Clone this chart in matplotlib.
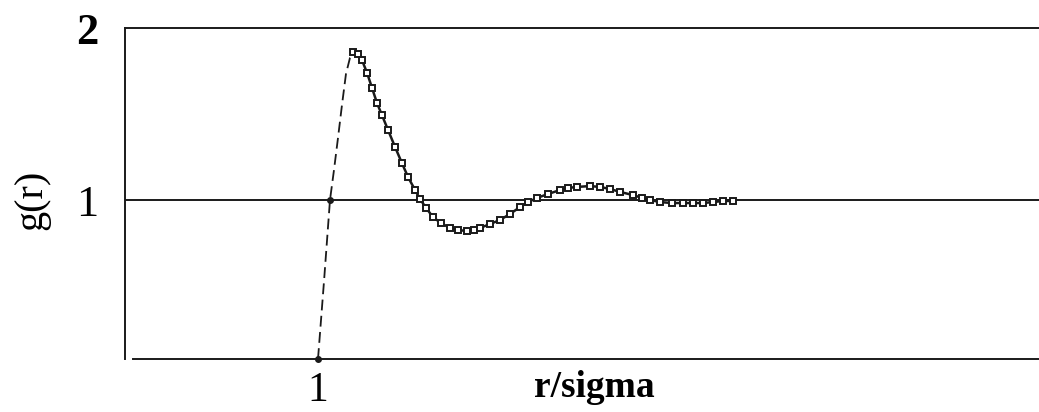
import numpy as np
import matplotlib
matplotlib.use("Agg")
import matplotlib.pyplot as plt

plt.rcParams['font.family'] = ['Liberation Serif', 'DejaVu Serif']

# Theory curve (dashed): contact value rise up to the first peak
r_theory = [1.000, 1.026, 1.051, 1.068, 1.085, 1.102, 1.119, 1.136, 1.157]
g_theory = [0.000, 0.497, 1.000, 1.174, 1.360, 1.552, 1.733, 1.826, 1.860]

# Simulation points (open squares)
r_sim = [1.149, 1.170, 1.187, 1.209, 1.230, 1.251, 1.272, 1.298, 1.328, 1.357,
         1.383, 1.413, 1.434, 1.460, 1.489, 1.523, 1.562, 1.596, 1.634, 1.664,
         1.689, 1.732, 1.774, 1.817, 1.860, 1.894, 1.932, 1.979, 2.030, 2.064,
         2.102, 2.157, 2.200, 2.243, 2.285, 2.340, 2.379, 2.413, 2.455, 2.506,
         2.553, 2.596, 2.638, 2.681, 2.723, 2.766]
g_sim = [1.860, 1.849, 1.814, 1.738, 1.651, 1.564, 1.494, 1.407, 1.308, 1.215,
         1.134, 1.058, 1.006, 0.950, 0.893, 0.855, 0.824, 0.811, 0.805, 0.811,
         0.824, 0.849, 0.874, 0.912, 0.956, 0.987, 1.012, 1.035, 1.058, 1.070,
         1.076, 1.081, 1.076, 1.064, 1.047, 1.029, 1.012, 1.000, 0.987, 0.981,
         0.981, 0.981, 0.981, 0.987, 0.994, 0.994]

y_ticks = [1, 2]
y_tick_labels = ["1", "2"]
x_ticks = [1]
x_tick_labels = ["1"]

# Vertical scale: the band below g=1 is drawn slightly compressed
k = 159.0 / 172.0


def fwd(g):
    g = np.asarray(g, dtype=float)
    return np.where(g <= 1, g * k, k + (g - 1))


def inv(y):
    y = np.asarray(y, dtype=float)
    return np.where(y <= k, y / k, 1 + (y - k))


W, H = 1039, 412
fig = plt.figure(figsize=(W / 100, H / 100), dpi=100)
ax = fig.add_axes([125 / W, (H - 359) / H, 1 - 125 / W, (359 - 28) / H])

xmin = 1 - 193 / 235
xmax = 1 + (W - 318) / 235
ax.set_xlim(xmin, xmax)
ax.set_yscale('function', functions=(fwd, inv))
ax.set_ylim(0, 2)

lc = '#1a1a1a'
lw = 1.4

# Frame: left and top edges, plus the g=1 reference line and the r axis
for s in ['right', 'bottom']:
    ax.spines[s].set_visible(False)
for s in ['left', 'top']:
    ax.spines[s].set_color(lc)
    ax.spines[s].set_linewidth(lw)
ax.axhline(1, color=lc, lw=lw, zorder=1)
ax.plot([1 - 185 / 235, xmax], [0, 0], color=lc, lw=lw, clip_on=False, zorder=1)

# Theory (dashed)
ax.plot(r_theory, g_theory, color=lc, lw=1.3, dashes=(6, 3), zorder=2)
ax.plot([r_theory[0], r_theory[2]], [g_theory[0], g_theory[2]], 'o',
        color=lc, ms=4, clip_on=False, zorder=3)

# Simulation (open squares on a thin line)
ax.plot(r_sim, g_sim, color=lc, lw=1.8, marker='s', ms=5,
        mfc='white', mec=lc, mew=1.4, zorder=4)

ax.set_yticks(y_ticks)
ax.set_yticklabels(y_tick_labels, fontsize=32)
ax.get_yticklabels()[1].set_fontweight('bold')
ax.tick_params(axis='y', length=0, pad=19)
ax.set_xticks(x_ticks)
ax.set_xticklabels(x_tick_labels, fontsize=30)
ax.tick_params(axis='x', length=0, pad=9)
ax.yaxis.set_minor_locator(matplotlib.ticker.NullLocator())

fig.text(32 / W, (H - 200) / H, "g(r)", rotation=90, fontsize=29,
         ha='center', va='center')
fig.text(594 / W, (H - 397) / H, "r/sigma", fontsize=27, fontweight='bold',
         ha='center', va='baseline')

fig.savefig("out.png", dpi=100)
